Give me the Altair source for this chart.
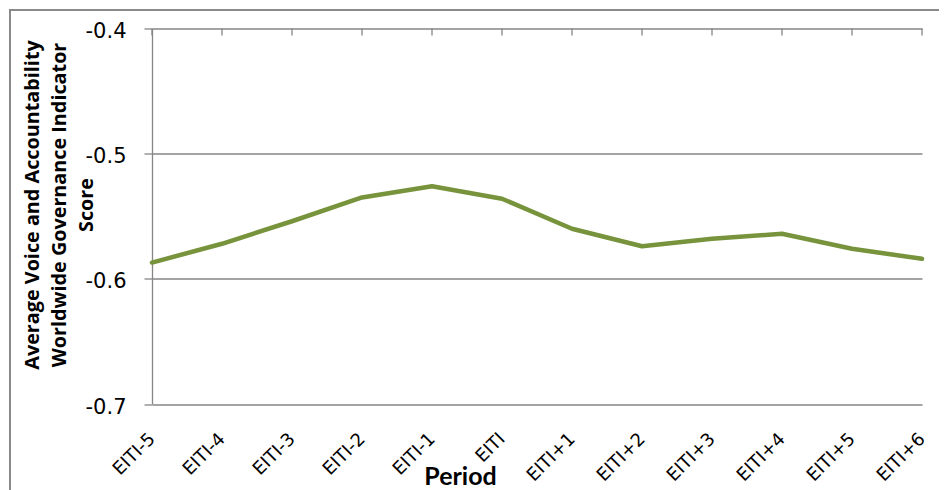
import altair as alt
import pandas as pd

periods = ["EITI-5", "EITI-4", "EITI-3", "EITI-2", "EITI-1", "EITI",
           "EITI+1", "EITI+2", "EITI+3", "EITI+4", "EITI+5", "EITI+6"]
scores = [-0.587, -0.572, -0.554, -0.535, -0.526, -0.536,
          -0.560, -0.574, -0.568, -0.564, -0.576, -0.584]
y_ticks = [-0.7, -0.6, -0.5, -0.4]
y_title = ["Average Voice and Accountability", "Worldwide Governance Indicator", "Score"]
x_title = "Period"

df = pd.DataFrame({"period": periods, "score": scores})

GRAY = "#868686"
GREEN = "#77933C"

x_enc = alt.X(
    "period:N", sort=periods,
    scale=alt.Scale(type="point", padding=0),
    axis=alt.Axis(
        orient="bottom", domain=False, ticks=False, grid=False,
        labelAngle=-45, labelAlign="right", labelBaseline="middle",
        labelPadding=32, labelOffset=0,
        labelFont="DejaVu Sans", labelFontSize=18, labelColor="#000000",
        title=x_title, titleFont="Lato", titleFontSize=25, titleFontWeight="bold",
        titleColor="#000000", titleX=308, titleY=80, titleAlign="center",
        titleBaseline="alphabetic",
    ),
)

y_enc = alt.Y(
    "score:Q",
    scale=alt.Scale(domain=[-0.7, -0.4], nice=False, zero=False),
    axis=alt.Axis(
        values=y_ticks, grid=True, gridColor=GRAY, gridWidth=1.3,
        domain=True, domainColor=GRAY, domainWidth=1.3,
        ticks=True, tickColor=GRAY, tickWidth=1.3, tickSize=8,
        labelPadding=18, labelOffset=3,
        labelExpr="replace(format(datum.value, '.1f'), '\u2212', '-')",
        labelFont="DejaVu Sans", labelFontSize=21, labelColor="#000000",
        title=y_title, titleFont="Open Sans", titleFontSize=19.8, titleFontWeight="bold",
        titleColor="#000000", titleAngle=270, titleX=-130, titleY=176,
        titleAlign="center", titleBaseline="top", titleLineHeight=27,
    ),
)

base = alt.Chart(df)

line = base.mark_line(color=GREEN, strokeWidth=4.5, strokeCap="round", strokeJoin="round").encode(
    x=x_enc, y=y_enc
)

top_ticks = base.mark_rule(color=GRAY, strokeWidth=1.3).encode(
    x=alt.X("period:N", sort=periods), y=alt.value(0), y2=alt.value(7)
)

border = base.mark_rect(filled=False, stroke="#8a8a8a", strokeWidth=1.3).encode(
    x=alt.value(-142), x2=alt.value(900), y=alt.value(-18.5), y2=alt.value(500)
)

chart = alt.layer(border, top_ticks, line).properties(
    width=770, height=375.5,
    autosize=alt.AutoSizeParams(type="none"),
    padding={"left": 144, "top": 20.5, "right": 17, "bottom": 85.5},
    background="#ffffff",
).configure_view(stroke=None)

chart.save("out.html", embed_options={"renderer": "svg", "actions": False})
